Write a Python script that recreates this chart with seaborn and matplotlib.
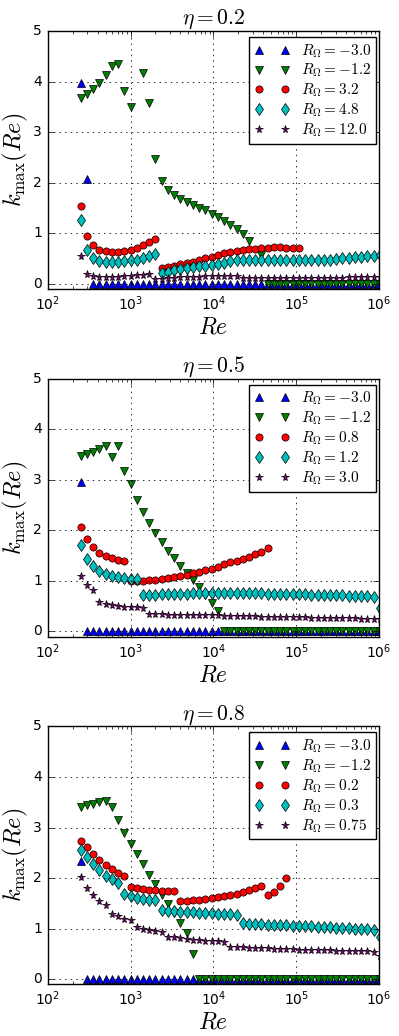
# -*- coding: utf-8 -*-
"""
k_max(Re) for three radius ratios eta = 0.2, 0.5, 0.8
one panel per eta, five rotation numbers R_Omega per panel
"""

import numpy as np
import matplotlib
matplotlib.use('Agg')
import matplotlib.pyplot as plt
import seaborn as sns

nan = np.nan

# ==================== data ====================
# Reynolds numbers (same grid for every series)
re_values = [250, 297, 354, 420, 500, 595, 707, 841, 1000, 1189,
             1414, 1682, 2000, 2378, 2828, 3364, 4000, 4757, 5657, 6727,
             8000, 9514, 11314, 13454, 16000, 19027, 22627, 26909, 32000, 38055,
             45255, 53817, 64000, 76109, 90510, 107635, 128000, 152219, 181019, 215270,
             256000, 304437, 362039, 430539, 512000, 608874, 724077, 861078, 1024000]

# --- eta = 0.2 ---
eta02_labels = ['-3.0', '-1.2', '3.2', '4.8', '12.0']
eta02_a = [3.98, 2.08, 0, 0, 0, 0, 0, 0, 0, 0,
           0, 0, 0, 0, 0, 0, 0, 0, 0, 0,
           0, 0, 0, 0, 0, 0, 0, 0, 0, 0,
           0, 0, 0, 0, 0, 0, 0, 0, 0, 0,
           0, 0, 0, 0, 0, 0, 0, 0, 0]
eta02_b = [3.68, 3.75, 3.85, 3.97, 4.13, 4.31, 4.34, 3.81, 3.49, nan,
           4.17, 3.57, 2.46, 2.04, 1.86, 1.75, 1.67, 1.61, 1.55, 1.49,
           1.45, 1.39, 1.33, 1.25, 1.16, 1.08, 0.98, 0.85, nan, 0.57,
           0, 0, 0, 0, 0, 0, 0, 0, 0, 0,
           0, 0, 0, 0, 0, 0, 0, 0, 0]
eta02_c = [1.54, 0.95, 0.77, 0.67, 0.64, 0.63, 0.63, 0.65, 0.67, 0.71,
           0.76, 0.82, 0.88, 0.32, 0.34, 0.36, 0.39, 0.42, 0.44, 0.47,
           0.50, 0.53, 0.57, 0.60, 0.63, 0.65, 0.67, 0.68, 0.69, 0.70,
           0.71, 0.72, 0.72, 0.71, 0.71, 0.70, nan, nan, nan, nan,
           nan, nan, nan, nan, nan, nan, nan, nan, nan]
eta02_d = [1.27, 0.67, 0.51, 0.46, 0.43, 0.43, 0.44, 0.45, 0.47, 0.48,
           0.51, 0.54, 0.59, 0.21, 0.24, 0.27, 0.30, 0.32, 0.34, 0.35,
           0.36, 0.38, 0.39, 0.42, 0.45, 0.47, 0.48, 0.48, 0.48, 0.47,
           0.47, 0.47, 0.47, 0.47, 0.47, 0.47, 0.47, 0.48, 0.48, 0.48,
           0.48, 0.49, 0.50, 0.51, 0.52, 0.53, 0.54, 0.55, 0.56]
eta02_e = [0.55, 0.19, 0.15, 0.13, 0.13, 0.13, 0.14, 0.15, 0.16, 0.17,
           0.18, 0.20, 0.09, 0.10, 0.11, 0.12, 0.13, 0.13, 0.14, 0.14,
           0.15, 0.15, 0.16, 0.16, 0.16, 0.16, 0.12, 0.12, 0.12, 0.12,
           0.12, 0.12, 0.12, 0.12, 0.12, 0.12, 0.12, 0.12, 0.12, 0.12,
           0.12, 0.12, 0.12, 0.13, 0.13, 0.13, 0.13, 0.13, 0.13]

# --- eta = 0.5 ---
eta05_labels = ['-3.0', '-1.2', '0.8', '1.2', '3.0']
eta05_a = [2.95, 0, 0, 0, 0, 0, 0, 0, 0, 0,
           0, 0, 0, 0, 0, 0, 0, 0, 0, 0,
           0, 0, 0, 0, 0, 0, 0, 0, 0, 0,
           0, 0, 0, 0, 0, 0, 0, 0, 0, 0,
           0, 0, 0, 0, 0, 0, 0, 0, 0]
eta05_b = [3.47, 3.51, 3.55, 3.61, 3.66, 3.45, 3.66, 3.18, 2.92, 2.60,
           2.36, 2.15, 1.95, 1.77, 1.60, 1.45, 1.29, 1.16, 1.02, 0.88,
           0.72, 0.56, 0.40, 0, 0, 0, 0, 0, 0, 0,
           0, 0, 0, 0, 0, 0, 0, 0, 0, 0,
           0, 0, 0, 0, 0, 0, 0, 0, 0]
eta05_c = [2.07, 1.83, 1.67, 1.56, 1.49, 1.45, 1.41, 1.39, 0.99, 0.99,
           1.00, 1.01, 1.02, 1.03, 1.06, 1.08, 1.10, 1.12, 1.15, 1.18,
           1.21, 1.24, 1.28, 1.33, 1.37, 1.40, 1.43, 1.48, 1.53, 1.58,
           1.66, nan, nan, nan, nan, nan, nan, nan, nan, nan,
           nan, nan, nan, nan, nan, nan, nan, nan, nan]
eta05_d = [1.71, 1.44, 1.30, 1.20, 1.14, 1.10, 1.07, 1.05, 1.04, 1.04,
           0.73, 0.73, 0.73, 0.74, 0.74, 0.74, 0.75, 0.75, 0.76, 0.76,
           0.76, 0.77, 0.77, 0.77, 0.77, 0.77, 0.76, 0.76, 0.76, 0.76,
           0.75, 0.75, 0.75, 0.75, 0.74, 0.74, 0.74, 0.73, 0.73, 0.73,
           0.72, 0.72, 0.72, 0.71, 0.71, 0.70, 0.70, 0.69, 0.46]
eta05_e = [1.10, 0.91, 0.82, 0.59, 0.55, 0.52, 0.50, 0.49, 0.48, 0.48,
           0.47, 0.34, 0.34, 0.34, 0.33, 0.33, 0.33, 0.33, 0.33, 0.32,
           0.32, 0.32, 0.32, 0.31, 0.31, 0.31, 0.30, 0.30, 0.30, 0.29,
           0.29, 0.29, 0.29, 0.28, 0.28, 0.28, 0.28, 0.27, 0.27, 0.27,
           0.27, 0.26, 0.26, 0.26, 0.26, 0.25, 0.25, 0.25, 0.24]

# --- eta = 0.8 ---
eta08_labels = ['-3.0', '-1.2', '0.2', '0.3', '0.75']
eta08_a = [2.34, 0, 0, 0, 0, 0, 0, 0, 0, 0,
           0, 0, 0, 0, 0, 0, 0, 0, 0, 0,
           0, 0, 0, 0, 0, 0, 0, 0, 0, 0,
           0, 0, 0, 0, 0, 0, 0, 0, 0, 0,
           0, 0, 0, 0, 0, 0, 0, 0, 0]
eta08_b = [3.41, 3.44, 3.47, 3.50, 3.52, 3.41, 3.14, 2.90, 2.67, 2.47,
           2.27, 2.07, 1.88, 1.67, 1.48, 1.30, 1.11, 0.92, 0.50, 0,
           0, 0, 0, 0, 0, 0, 0, 0, 0, 0,
           0, 0, 0, 0, 0, 0, 0, 0, 0, 0,
           0, 0, 0, 0, 0, 0, 0, 0, 0]
eta08_c = [2.74, 2.62, 2.47, 2.35, 2.25, 2.17, 2.11, 2.05, 1.83, 1.80,
           1.78, 1.76, 1.76, 1.75, 1.75, 1.75, 1.54, 1.54, 1.56, 1.57,
           1.58, 1.60, 1.62, 1.64, 1.67, 1.69, 1.72, 1.76, 1.80, 1.84,
           1.66, 1.73, 1.84, 2.01, nan, nan, nan, nan, nan, nan,
           nan, nan, nan, nan, nan, nan, nan, nan, nan]
eta08_d = [2.55, 2.42, 2.27, 2.15, 2.04, 1.99, 1.91, 1.69, 1.64, 1.60,
           1.58, 1.56, 1.56, 1.36, 1.34, 1.34, 1.33, 1.32, 1.32, 1.31,
           1.31, 1.30, 1.28, 1.28, 1.28, 1.27, 1.11, 1.10, 1.10, 1.09,
           1.08, 1.08, 1.07, 1.07, 1.06, 1.06, 1.05, 1.05, 1.04, 1.04,
           1.03, 1.02, 1.02, 1.01, 1.00, 1.00, 0.99, 0.98, 0.83]
eta08_e = [2.03, 1.81, 1.66, 1.54, 1.46, 1.28, 1.24, 1.20, 1.17, 1.03,
           1.00, 0.98, 0.96, 0.94, 0.84, 0.83, 0.82, 0.80, 0.78, 0.77,
           0.76, 0.75, 0.75, 0.74, 0.64, 0.63, 0.63, 0.62, 0.62, 0.61,
           0.61, 0.60, 0.60, 0.59, 0.59, 0.58, 0.58, 0.58, 0.57, 0.57,
           0.57, 0.56, 0.56, 0.56, 0.55, 0.55, 0.55, 0.54, 0.45]

panels = [
    ('0.2', eta02_labels, [eta02_a, eta02_b, eta02_c, eta02_d, eta02_e]),
    ('0.5', eta05_labels, [eta05_a, eta05_b, eta05_c, eta05_d, eta05_e]),
    ('0.8', eta08_labels, [eta08_a, eta08_b, eta08_c, eta08_d, eta08_e]),
]

# marker / colour per series (same order in every panel)
markers = ['^', 'v', 'o', 'd', '*']
colors = ['#0000ff', '#007f00', '#ff0000', '#00bfbf', '#7f007f']
sizes = [5.2, 5.2, 5.2, 6.0, 5.8]

# ==================== style ====================
plt.style.use('classic')
plt.rcParams['font.family'] = ['DejaVu Sans']
plt.rcParams['mathtext.fontset'] = 'cm'
plt.rcParams['xtick.labelsize'] = 10
plt.rcParams['ytick.labelsize'] = 10

fig, axes = plt.subplots(3, 1, figsize=(3.99, 10.36), dpi=100)
fig.subplots_adjust(left=0.1195, right=0.95, top=0.970, bottom=0.050, hspace=0.349)

for ax, (eta, labels, series) in zip(axes, panels):
    for vals, lab, mk, col, ms in zip(series, labels, markers, colors, sizes):
        sns.lineplot(x=re_values, y=vals, ax=ax, estimator=None, errorbar=None,
                     linestyle='', marker=mk, markersize=ms, color=col,
                     markeredgecolor='k', markeredgewidth=0.5,
                     label=r'$R_\Omega=%s$' % lab)
    ax.set_xscale('log')
    ax.set_xlim(1e2, 1e6)
    ax.set_ylim(-0.1, 5)
    ax.set_yticks([0, 1, 2, 3, 4, 5])
    ax.grid(True, which='major', color='k', linestyle=':', linewidth=0.6)
    ax.set_title(r'$\eta=%s$' % eta, fontsize=15.5)
    ax.set_xlabel(r'$Re$', fontsize=17, labelpad=1)
    ax.set_ylabel(r'$k_{\max}(Re)$', fontsize=17.5, labelpad=2)
    # legend box sits 3 px from the right spine and 6 px below the top spine
    ax.legend(loc='upper right', bbox_to_anchor=(1 - 3 / 331.3, 1 - 6 / 258.0),
              numpoints=2, fontsize=11, frameon=True, fancybox=False,
              borderaxespad=0, labelspacing=0.15, borderpad=0.32,
              handlelength=2.3, handletextpad=0.75)

plt.savefig('out.png', dpi=100, facecolor='white')
